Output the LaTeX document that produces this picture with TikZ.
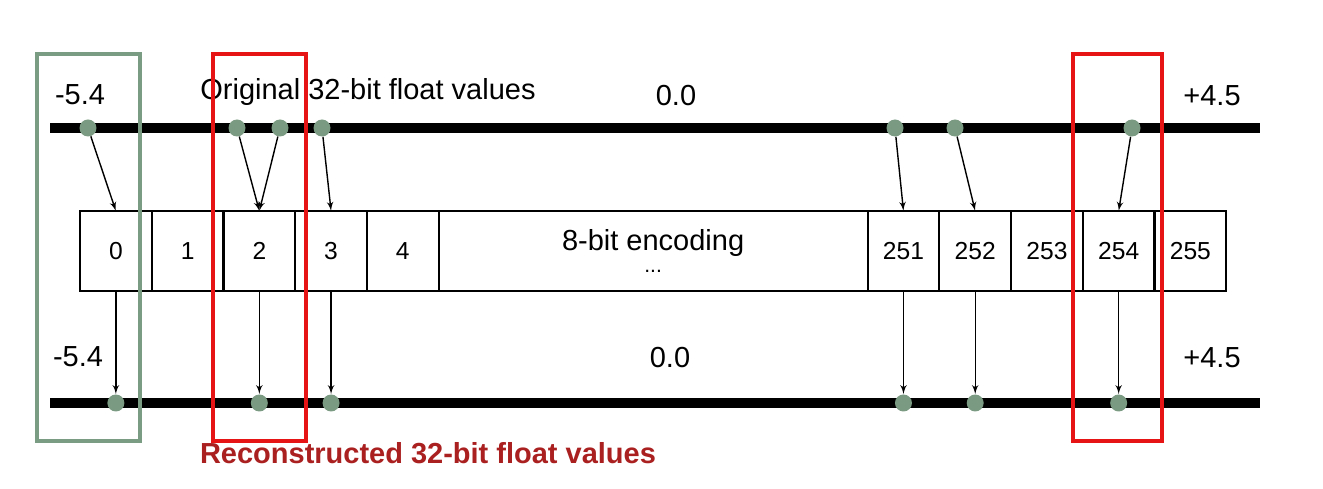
\documentclass[tikz,border=0pt]{standalone}
\usepackage{fontspec}
\setmainfont{Liberation Sans}
\usetikzlibrary{arrows,positioning}
\definecolor{hlred}{RGB}{230,20,20}
\definecolor{hlgreen}{RGB}{122,156,130}
\definecolor{dotgreen}{RGB}{122,154,130}
\definecolor{recred}{RGB}{170,32,32}
\tikzstyle{cell} = [rectangle, draw, line width=1.2pt, minimum width=1.435cm,
    minimum height=1.6cm, inner sep=0pt, outer sep=0pt, font=\fontsize{14}{16}\selectfont]
\tikzstyle{line} = [draw, -latex', line width=0.8pt]
\tikzstyle{dot} = [circle, fill=dotgreen, minimum size=0.34cm, inner sep=0pt]
\tikzstyle{floatline} = [draw, line width=0.2cm]
\tikzstyle{numlabel} = [font=\fontsize{16.5}{18}\selectfont]
\tikzstyle{highlight} = [draw, line width=1.8pt]

\begin{document}
\begin{tikzpicture}[x=0.02cm, y=-0.02cm]
        \useasboundingbox (0,0) rectangle (1323,489);
        \coordinate (top) at (0,128);
        \coordinate (bot) at (0,403);

        % number lines
        \path [floatline] (50,128) -- (1260,128);
        \path [floatline] (50,403) -- (1260,403);

        \node [numlabel] (tmin) at (80,95) {-5.4};
        \node [numlabel] (ttitle) at (368,92) {Original 32-bit float values};
        \node [numlabel] (tzero) at (676,96) {0.0};
        \node [numlabel] (tmax) at (1212,96) {+4.5};
        \node [numlabel] (bmin) at (78,357) {-5.4};
        \node [numlabel] (bzero) at (670,358) {0.0};
        \node [numlabel] (bmax) at (1212,358) {+4.5};

        % encoding cells
        \node [cell, anchor=north west] (c0) at (80,211) {0};
        \node [cell, right=0pt of c0] (c1) {1};
        \node [cell, right=0pt of c1] (c2) {2};
        \node [cell, right=0pt of c2] (c3) {3};
        \node [cell, right=0pt of c3] (c4) {4};
        \node [cell, right=0pt of c4, minimum width=8.58cm, align=center,
            font=\fontsize{16.5}{18}\selectfont] (enc) {8-bit encoding\\[-5pt]{\fontsize{12}{12}\selectfont ...}};
        \node [cell, right=0pt of enc] (c251) {251};
        \node [cell, right=0pt of c251] (c252) {252};
        \node [cell, right=0pt of c252] (c253) {253};
        \node [cell, right=0pt of c253] (c254) {254};
        \node [cell, right=0pt of c254] (c255) {255};

        % original values
        \node [dot] (o0) at (88,128) {};
        \node [dot] (o2a) at (237,128) {};
        \node [dot] (o2b) at (280,128) {};
        \node [dot] (o3) at (322,128) {};
        \node [dot] (o251) at (895,128) {};
        \node [dot] (o252) at (955,128) {};
        \node [dot] (o254) at (1132,128) {};

        % reconstructed values
        \node [dot] (r0) at (c0.south |- bot) {};
        \node [dot] (r2) at (c2.south |- bot) {};
        \node [dot] (r3) at (c3.south |- bot) {};
        \node [dot] (r251) at (c251.south |- bot) {};
        \node [dot] (r252) at (c252.south |- bot) {};
        \node [dot] (r254) at (c254.south |- bot) {};

        \path [line] (o0) -- (c0.north);
        \path [line] (o2a) -- (c2.north);
        \path [line] (o2b) -- (c2.north);
        \path [line] (o3) -- (c3.north);
        \path [line] (o251) -- (c251.north);
        \path [line] (o252) -- (c252.north);
        \path [line] (o254) -- (c254.north);

        \path [line] (c0.south) -- (r0);
        \path [line] (c2.south) -- (r2);
        \path [line] (c3.south) -- (r3);
        \path [line] (c251.south) -- (r251);
        \path [line] (c252.south) -- (r252);
        \path [line] (c254.south) -- (r254);

        % highlighted columns
        \draw [highlight, hlgreen] (37,54) rectangle (140,441);
        \draw [highlight, hlred] (213,54) rectangle (306,441);
        \draw [highlight, hlred] (1073,54) rectangle (1162,441);

        \node [numlabel, text=recred, font=\fontsize{16.5}{18}\selectfont\bfseries] (rtitle) at (428,453) {Reconstructed 32-bit float values};
    \end{tikzpicture}
\end{document}
